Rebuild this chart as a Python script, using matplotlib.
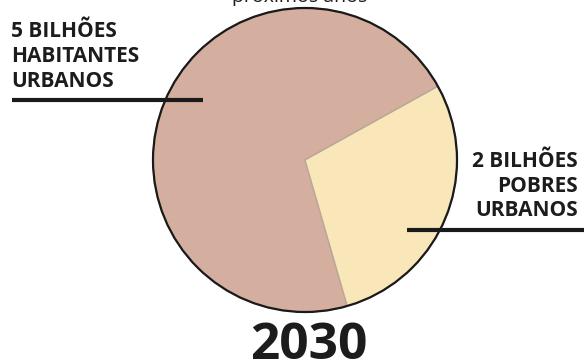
import matplotlib.pyplot as plt
from matplotlib.patches import Circle

# data
labels = ['HABITANTES URBANOS', 'POBRES URBANOS']
values = [5, 2]  # bilhões
colors = ['#d4ae9f', '#f9e7b9']
left_lines = ['5 BILHÕES', 'HABITANTES', 'URBANOS']
right_lines = ['2 BILHÕES', 'POBRES', 'URBANOS']
year = '2030'
title = 'próximos anos'

W, H = 584, 363
fig = plt.figure(figsize=(W / 100, H / 100), dpi=100)
ax = fig.add_axes([0, 0, 1, 1])

# pie in pixel-like coordinates (y up)
cx, cy, r = 305, H - 160, 152
ax.pie(values, colors=colors, startangle=29, counterclock=True,
       center=(cx, cy), radius=r,
       wedgeprops=dict(edgecolor='#b8a898', linewidth=1.0))
ax.add_patch(Circle((cx, cy), r, fill=False, edgecolor='#1a1a1a', linewidth=1.6, zorder=3))

ax.set_xlim(0, W)
ax.set_ylim(0, H)
ax.set_aspect('equal')
ax.axis('off')

font = 'Open Sans'
txt_color = '#1c1c1c'

# left label
for i, s in enumerate(left_lines):
    ax.text(11, H - (37 + 25 * i), s, fontsize=15, fontweight='bold',
            family=font, color=txt_color, ha='left', va='baseline')
ax.plot([12, 203], [H - 100, H - 100], color='#1a1a1a', linewidth=3, zorder=4,
        solid_capstyle='butt')

# right label
for i, s in enumerate(right_lines):
    ax.text(578, H - (167 + 24.5 * i), s, fontsize=15, fontweight='bold',
            family=font, color=txt_color, ha='right', va='baseline')
ax.plot([407, 584], [H - 230, H - 230], color='#1a1a1a', linewidth=3, zorder=4,
        solid_capstyle='butt')

# year
ax.text(309, H - 359, year, fontsize=37, fontweight='bold', family=font,
        color=txt_color, ha='center', va='baseline')

# title, mostly cut off at the top
ax.text(300, H - 2, title, fontsize=14, family=font, color=txt_color,
        ha='center', va='baseline')

fig.savefig('out.png', dpi=100)
